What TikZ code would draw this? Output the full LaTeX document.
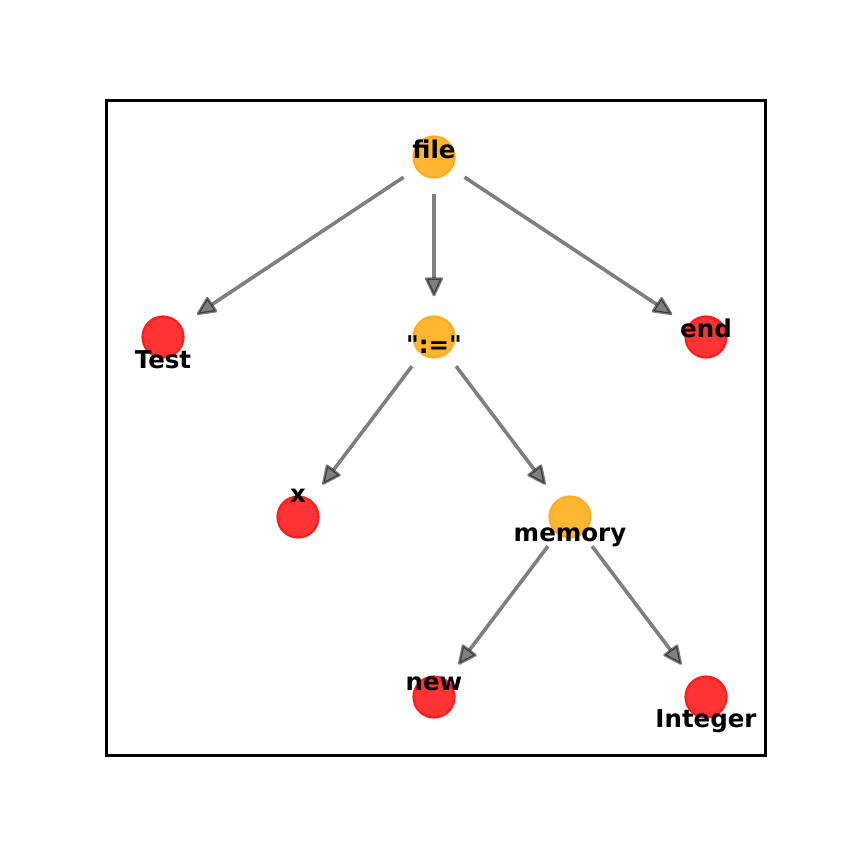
\documentclass[tikz,border=0pt]{standalone}
\usepackage{fontspec}
\setmainfont{DejaVu Sans}[Ligatures=TeXOff]
\usetikzlibrary{arrows.meta}
\definecolor{leaffill}{RGB}{255,51,51}
\definecolor{leafedge}{RGB}{255,28,28}
\definecolor{innerfill}{RGB}{255,183,51}
\definecolor{inneredge}{RGB}{255,172,32}
\begin{document}
\begin{tikzpicture}[x=1pt,y=-1pt,
  lbl/.style={font=\bfseries\fontsize{24.5}{28}\selectfont, anchor=base, inner sep=0pt},
  leaf/.style={circle, minimum size=41pt, inner sep=0pt, fill=leaffill, draw=leafedge, line width=2.2pt},
  inner/.style={circle, minimum size=41pt, inner sep=0pt, fill=innerfill, draw=inneredge, line width=2.2pt},
  edge/.style={draw=black, opacity=0.5, line width=3.6pt,
    -{Triangle[length=21pt,width=19pt,fill=black,line width=2.6pt,round]},
    shorten <=15pt, shorten >=19pt}
]
\useasboundingbox (0,0) rectangle (848,848);
\draw[line width=3pt] (106,101) rectangle (765,755);
% circles
\node[inner] (file) at (434,157) {};
\node[leaf] (test) at (163,337) {};
\node[inner] (assign) at (434,337) {};
\node[leaf] (endn) at (706,337) {};
\node[leaf] (x) at (298,517) {};
\node[inner] (memory) at (570,517) {};
\node[leaf] (new) at (434,697) {};
\node[leaf] (integer) at (706,697) {};
% edges
\draw[edge] (file) -- (test);
\draw[edge] (file) -- (assign);
\draw[edge] (file) -- (endn);
\draw[edge] (assign) -- (x);
\draw[edge] (assign) -- (memory);
\draw[edge] (memory) -- (new);
\draw[edge] (memory) -- (integer);
% labels
\node[lbl] (lfile) at (434,158) {file};
\node[lbl] (ltest) at (163,368) {Test};
\node[lbl] (lassign) at (434,353) {":="};
\node[lbl] (lend) at (706,337) {end};
\node[lbl] (lx) at (298,502) {x};
\node[lbl] (lmemory) at (570,541) {memory};
\node[lbl] (lnew) at (434,690) {new};
\node[lbl] (linteger) at (706,727) {Integer};
\end{tikzpicture}
\end{document}
